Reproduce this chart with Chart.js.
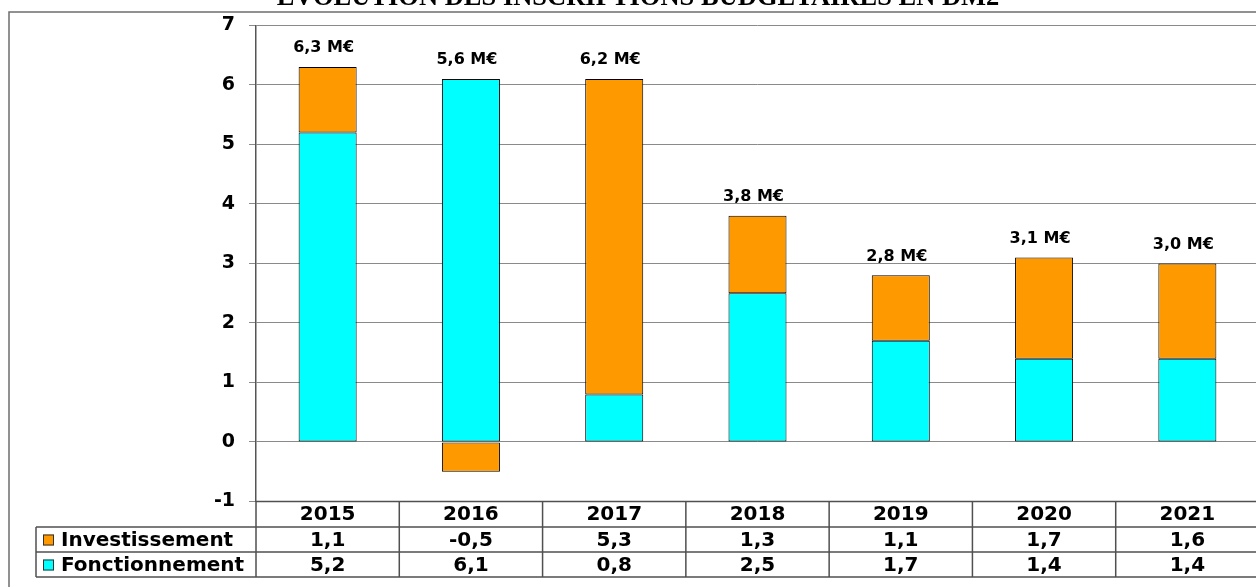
<!DOCTYPE html>
<html>
<head>
<meta charset="utf-8">
<script src="https://cdn.jsdelivr.net/npm/chart.js@4"></script>
<style>
  html, body { margin: 0; padding: 0; background: #fff; overflow: hidden; }
  #wrap { width: 1260px; height: 587px; }
</style>
</head>
<body>
<div id="wrap"><canvas id="dm2Chart" width="1260" height="587"></canvas></div>
<script>
// données (M€)
const years = ['2015', '2016', '2017', '2018', '2019', '2020', '2021'];
const investissement = [1.1, -0.5, 5.3, 1.3, 1.1, 1.7, 1.6];
const fonctionnement = [5.2, 6.1, 0.8, 2.5, 1.7, 1.4, 1.4];
const totalLabels = ['6,3 M€', '5,6 M€', '6,2 M€', '3,8 M€', '2,8 M€', '3,1 M€', '3,0 M€'];
const titleText = 'ÉVOLUTION DES INSCRIPTIONS BUDGÉTAIRES EN DM2';

const ORANGE = '#FF9900';
const CYAN = '#00FFFF';
const FONT = '"DejaVu Sans", sans-serif';

const fmt = v => v.toFixed(1).replace('.', ',');

// cadre, titre, étiquettes et tableau de données
const decorPlugin = {
    id: 'decor',
    afterDraw(chart) {
        const ctx = chart.ctx;
        const x = chart.scales.x;
        const y = chart.scales.y;
        const W = chart.width;

        ctx.save();
        // cadre
        ctx.strokeStyle = '#6e6e6e';
        ctx.lineWidth = 1.5;
        ctx.beginPath();
        ctx.moveTo(9, 587);
        ctx.lineTo(9, 12);
        ctx.lineTo(W, 12);
        ctx.stroke();

        // titre (coupé en haut)
        ctx.fillStyle = '#000';
        ctx.font = 'bold 26.5px "Liberation Serif", serif';
        ctx.textAlign = 'center';
        ctx.textBaseline = 'alphabetic';
        ctx.fillText(titleText, 638, 5);

        // totaux au-dessus des barres
        ctx.font = 'bold 16px ' + FONT;
        ctx.textBaseline = 'middle';
        years.forEach((yr, i) => {
            const top = Math.max(investissement[i], 0) + Math.max(fonctionnement[i], 0);
            ctx.fillText(totalLabels[i], x.getPixelForValue(i) - 4, y.getPixelForValue(top) - 19);
        });

        // tableau
        const band = (x.right - x.left) / years.length;
        const t0 = y.getPixelForValue(-1);
        const r1 = t0 + 25.5, r2 = r1 + 25, r3 = r2 + 25;
        const labLeft = 36;
        ctx.strokeStyle = '#505050';
        ctx.lineWidth = 1.5;
        ctx.beginPath();
        ctx.moveTo(x.left, t0); ctx.lineTo(W, t0);
        [r1, r2, r3].forEach(r => { ctx.moveTo(labLeft, r); ctx.lineTo(W, r); });
        ctx.moveTo(labLeft, r1); ctx.lineTo(labLeft, r3);
        for (let i = 0; i <= years.length; i++) {
            const bx = x.left + i * band;
            ctx.moveTo(bx, t0); ctx.lineTo(bx, r3);
        }
        ctx.stroke();

        ctx.font = 'bold 20px ' + FONT;
        ctx.fillStyle = '#000';
        ctx.textAlign = 'center';
        years.forEach((yr, i) => {
            const cx = x.getPixelForValue(i);
            ctx.fillText(yr, cx, (t0 + r1) / 2 + 1);
            ctx.fillText(fmt(investissement[i]), cx, (r1 + r2) / 2 + 1);
            ctx.fillText(fmt(fonctionnement[i]), cx, (r2 + r3) / 2 + 1);
        });

        // légende dans le tableau
        const rows = [['Investissement', ORANGE, (r1 + r2) / 2], ['Fonctionnement', CYAN, (r2 + r3) / 2]];
        ctx.textAlign = 'left';
        rows.forEach(([name, col, cy]) => {
            ctx.fillStyle = col;
            ctx.fillRect(43, cy - 5, 11, 11);
            ctx.strokeStyle = '#333';
            ctx.lineWidth = 1;
            ctx.strokeRect(43.5, cy - 4.5, 10, 10);
            ctx.fillStyle = '#000';
            ctx.fillText(name, 61, cy + 1);
        });
        ctx.restore();
    }
};

const ctx = document.getElementById('dm2Chart').getContext('2d');
const chart = new Chart(ctx, {
    type: 'bar',
    data: {
        labels: years,
        datasets: [
            { label: 'Fonctionnement', data: fonctionnement, backgroundColor: CYAN },
            { label: 'Investissement', data: investissement, backgroundColor: ORANGE }
        ]
    },
    options: {
        responsive: false,
        animation: false,
        layout: { padding: { left: 0, top: 25, right: 1, bottom: 85.5 } },
        datasets: {
            bar: {
                borderColor: '#000',
                borderWidth: 1,
                borderSkipped: false,
                barPercentage: 0.405,
                categoryPercentage: 1
            }
        },
        plugins: {
            legend: { display: false },
            tooltip: { enabled: false }
        },
        scales: {
            x: { stacked: true, display: false },
            y: {
                stacked: true,
                min: -1,
                max: 7,
                afterFit(scale) { scale.width = 256; },
                ticks: {
                    stepSize: 1,
                    padding: 14,
                    color: '#000',
                    font: { family: FONT, size: 19, weight: 'bold' }
                },
                grid: { color: '#8a8a8a', lineWidth: 1, tickLength: 7 },
                border: { display: true, color: '#555', width: 1.5 }
            }
        }
    },
    plugins: [decorPlugin]
});
</script>
</body>
</html>
